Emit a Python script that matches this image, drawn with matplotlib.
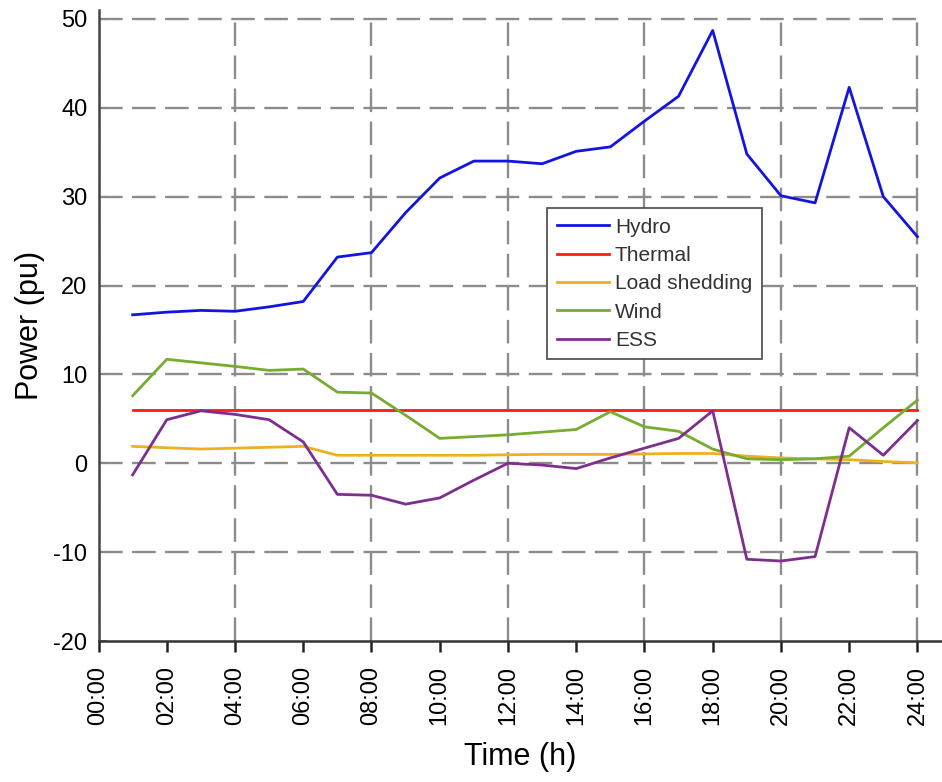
import numpy as np
import matplotlib.pyplot as plt

# hourly data (pu), hours 1..24
hours = np.arange(1, 25)
hydro = [16.7, 17.0, 17.2, 17.1, 17.6, 18.2, 23.2, 23.7, 28.2, 32.1, 34.0, 34.0,
         33.7, 35.1, 35.6, 38.5, 41.3, 48.7, 34.8, 30.1, 29.3, 42.3, 30.0, 25.5]
thermal = [6.0] * 24
load_shedding = [1.9, 1.75, 1.6, 1.7, 1.8, 1.9, 0.9, 0.9, 0.9, 0.9, 0.9, 0.95,
                 1.0, 1.0, 1.0, 1.05, 1.1, 1.1, 0.8, 0.6, 0.5, 0.4, 0.2, 0.05]
wind = [7.6, 11.7, 11.3, 10.9, 10.45, 10.6, 8.0, 7.9, 5.4, 2.8, 3.0, 3.2,
        3.5, 3.8, 5.8, 4.1, 3.6, 1.6, 0.5, 0.4, 0.5, 0.8, 4.0, 7.1]
ess = [-1.3, 4.9, 5.9, 5.5, 4.9, 2.4, -3.5, -3.6, -4.6, -3.9, -1.9, 0.0,
       -0.2, -0.6, 0.6, 1.7, 2.8, 5.9, -10.8, -11.0, -10.5, 4.0, 0.9, 4.8]

x_ticks = np.arange(0, 25, 2)
x_ticklabels = [f"{h:02d}:00" for h in x_ticks]
y_ticks = np.arange(-20, 51, 10)

plt.rcParams['font.family'] = ['Liberation Sans', 'DejaVu Sans']

fig = plt.figure(figsize=(9.42, 7.82), dpi=100)
ax = fig.add_axes([0.1046, 0.1803, 0.8954, 0.8069])

# dashed grid box 0..24 x -20..50
grid_kw = dict(colors='#8c8c8c', linewidth=1.7, linestyles=(0, (10, 4)), zorder=1)
ax.hlines(np.arange(-10, 51, 10), 0, 24, **grid_kw)
ax.vlines(np.arange(0, 25, 4), -20, 50, **grid_kw)

lw = 2.0
ax.plot(hours, hydro, color='#1414e0', lw=lw, label='Hydro', zorder=3)
ax.plot(hours, thermal, color='#ff1a1a', lw=lw, label='Thermal', zorder=3)
ax.plot(hours, load_shedding, color='#edb120', lw=lw, label='Load shedding', zorder=3)
ax.plot(hours, wind, color='#77ac30', lw=lw, label='Wind', zorder=3)
ax.plot(hours, ess, color='#7e2f8e', lw=lw, label='ESS', zorder=3)

ax.set_xlim(0, 24.72)
ax.set_ylim(-20, 51)

ax.spines['top'].set_visible(False)
ax.spines['right'].set_visible(False)
ax.spines['left'].set_color('#444444')
ax.spines['left'].set_linewidth(1.8)
ax.spines['bottom'].set_color('#333333')
ax.spines['bottom'].set_linewidth(1.8)

ax.set_xticks(x_ticks)
ax.set_xticklabels(x_ticklabels, rotation=90, fontsize=17)
ax.set_yticks(y_ticks)
ax.set_yticklabels([str(v) for v in y_ticks], fontsize=17)
ax.tick_params(axis='x', direction='out', length=8, width=1.8, color='#222222', pad=10)
ax.tick_params(axis='y', direction='in', length=6, width=1.4, color='#888888', pad=8)

ax.set_xlabel('Time (h)', fontsize=22, labelpad=12)
ax.set_ylabel('Power (pu)', fontsize=22, labelpad=6)

leg = ax.legend(loc='upper left', bbox_to_anchor=(0.532, 0.686), borderaxespad=0,
                fontsize=15, handlelength=2.5, handletextpad=0.3, labelspacing=0.45,
                borderpad=0.45, fancybox=False, framealpha=1)
leg.get_frame().set_edgecolor('#555555')
leg.get_frame().set_linewidth(1.3)
for t in leg.get_texts():
    t.set_color('#333333')

fig.savefig('out.png', dpi=100)
